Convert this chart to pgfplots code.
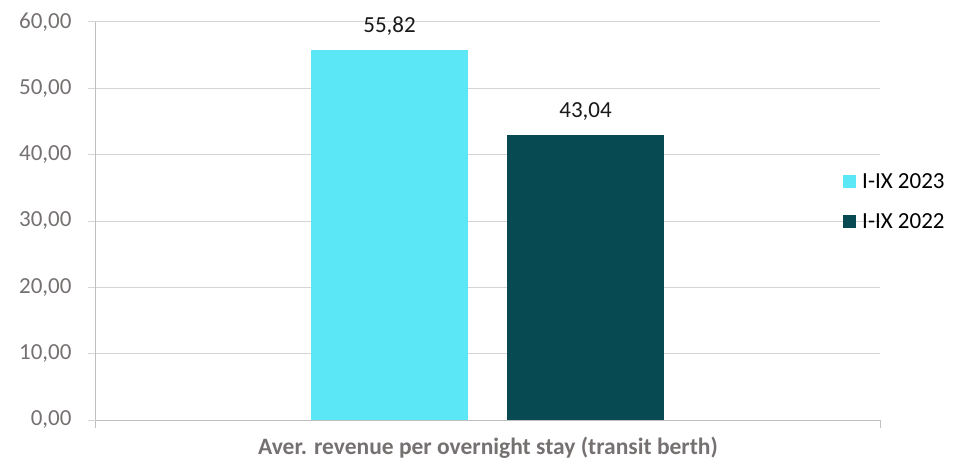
\documentclass[border=0pt]{standalone}
\usepackage{pgfplots}
\pgfplotsset{compat=1.18}
\usepackage{fontspec}
\setmainfont{Carlito}
\definecolor{cyanbar}{HTML}{5BE7F6}
\definecolor{tealbar}{HTML}{084A51}
\definecolor{gridgray}{HTML}{D4D4D4}
\definecolor{axisgray}{HTML}{BFBFBF}
\definecolor{labelgray}{HTML}{767171}
\begin{document}
\begin{tikzpicture}[x=1pt,y=1pt]
\useasboundingbox (-96,-41) rectangle (873,420);
\begin{axis}[
  at={(0,0)}, anchor=south west,
  scale only axis, width=784pt, height=398pt,
  xmin=-0.5, xmax=0.5, ymin=0, ymax=60,
  axis lines=left,
  axis line style={draw=axisgray, line width=1pt, -},
  ytick={0,10,...,60},
  ymajorgrids, grid style={gridgray, line width=1pt},
  xtick={-0.5,0.5}, xticklabels={},
  tick align=outside, major tick length=8pt,
  y tick style={gridgray, line width=1pt},
  x tick style={axisgray, line width=1pt},
  yticklabel style={font=\fontsize{23}{27}\selectfont, text=labelgray, xshift=-13pt},
  /pgf/number format/fixed, /pgf/number format/fixed zerofill,
  /pgf/number format/precision=2, /pgf/number format/use comma,
  /pgf/number format/1000 sep={}, /pgf/number format/assume math mode=true,
  xlabel={Aver. revenue per overnight stay (transit berth)},
  xlabel style={font=\bfseries\fontsize{23.5}{27}\selectfont, text=labelgray,
    at={(axis description cs:0.5,0)}, anchor=center, yshift=-28pt},
  nodes near coords,
  every node near coord/.append style={font=\fontsize{23}{27}\selectfont, text=black!90,
    inner sep=0pt, text depth=0pt, yshift=17pt},
  legend style={draw=none, fill=none, at={(0.9528,0.549)}, anchor=west,
    font=\fontsize{23}{27}\selectfont, inner sep=0pt, row sep=24pt,
    nodes={inner sep=0pt}, /tikz/every odd column/.append style={column sep=6pt}},
  legend cell align=left,
]
\addplot[ybar, bar width=0.2, bar shift=0pt, fill=cyanbar, draw=none,
  legend image code/.code={\fill[cyanbar] (0pt,-6.5pt) rectangle (13pt,6.5pt);}]
  coordinates {(-0.1256,55.82)};
\addplot[ybar, bar width=0.2, bar shift=0pt, fill=tealbar, draw=none,
  legend image code/.code={\fill[tealbar] (0pt,-6.5pt) rectangle (13pt,6.5pt);}]
  coordinates {(0.1244,43.04)};
\legend{I-IX 2023, I-IX 2022}
\end{axis}
\end{tikzpicture}
\end{document}
